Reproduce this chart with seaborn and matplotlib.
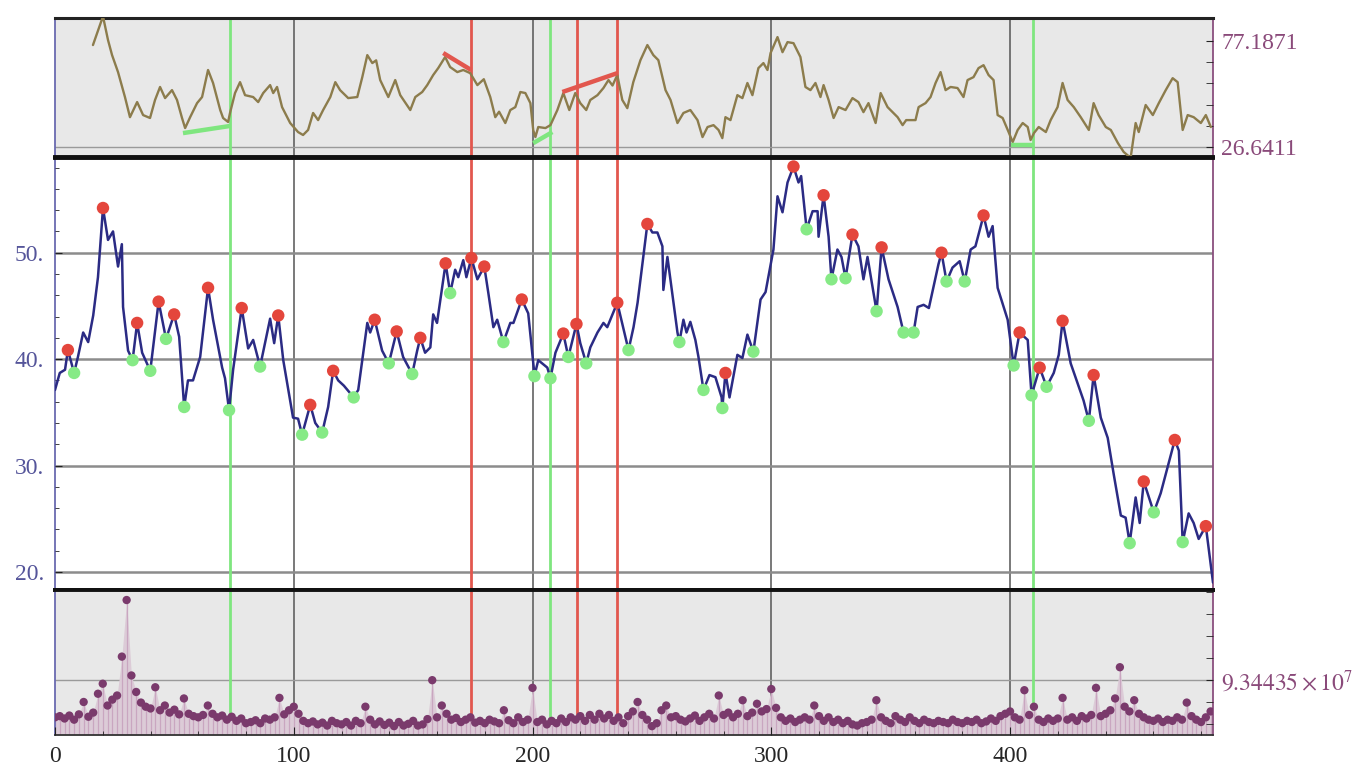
import numpy as np
import pandas as pd
import matplotlib
matplotlib.use("Agg")
import matplotlib.pyplot as plt
from matplotlib.ticker import MultipleLocator, FixedLocator
import seaborn as sns

# ---------------- data ----------------
price_x = [0, 2, 4.2, 5.4, 8, 9.6, 11.8, 13.9, 16, 18, 20.1, 22.2, 24.3, 26.4, 28, 28.5, 30.6, 32.5,
           34.4, 36.5, 39.9, 43.4, 46.5, 49.9, 52, 54.1, 55.7, 57.8, 60.8, 64.1, 66.2, 70, 71.2, 72.9,
           74.6, 78.2, 80.9, 83, 85.9, 90.1, 91.8, 93.5, 95.6, 99.7, 101.8, 103.5, 106.9, 109, 111.9,
           114.4, 116.5, 118.6, 121, 125.1, 127, 130.8, 132, 133.9, 137, 139.8, 143.1, 145.8, 149.6,
           151.7, 153, 155, 157.2, 158.4, 160, 163.6, 165.5, 167.6, 168.9, 171, 172.3, 174.4, 176.9,
           179.8, 181.5, 183.6, 185.2, 187.8, 190.7, 192, 195.5, 198.2, 200.5, 200.8, 202.4, 206.2,
           207.5, 209.6, 212.9, 215, 218.4, 220, 222.5, 224.2, 227.2, 229.7, 231.3, 235.5, 240.2,
           242.3, 244, 246.4, 248.1, 250.2, 252.3, 254.4, 254.8, 256.5, 260.7, 261.5, 263.2, 264.5,
           266.1, 268.2, 269.5, 271.6, 274.1, 276.6, 279.2, 279.5, 280.8, 282.5, 285.8, 287.9, 290,
           292.5, 295.5, 297.6, 300.9, 302.6, 304.7, 306.8, 309.3, 311.4, 312.5, 314.8, 317.3, 319.4,
           319.8, 321.9, 324, 325.2, 327.7, 329.4, 331.1, 333.2, 334, 336.5, 338.6, 340.3, 344.1,
           346.2, 349.1, 352.9, 355.4, 359.6, 361.3, 363.8, 366, 370, 371.3, 373.4, 375.9, 378.9,
           381, 383.5, 385.5, 388.9, 391, 392.7, 394.8, 399, 401.5, 404, 407.4, 409, 412.4, 415.3,
           418.3, 420.4, 422, 425.4, 430.8, 433, 435, 438, 440.9, 443.4, 446.4, 448.4, 450.1, 452.6,
           454.3, 456, 460.2, 463.1, 469, 470.7, 472.3, 474.8, 476.9, 479, 482, 485]
price_y = [37.1, 38.7, 39.0, 40.85, 38.7, 40.2, 42.5, 41.6, 44.1, 47.7, 54.2, 51.2, 52.0, 48.7, 50.8, 44.9,
           40.8, 39.9, 43.4, 40.6, 38.9, 45.4, 41.9, 44.2, 42.1, 35.5, 38.0, 38.0, 40.2, 46.7, 43.7,
           39.2, 38.2, 35.2, 39.0, 44.8, 41.0, 41.8, 39.3, 43.8, 41.5, 44.1, 39.9, 34.5, 34.4, 32.9,
           35.7, 34.0, 33.1, 35.5, 38.9, 38.0, 37.5, 36.4, 37.1, 43.4, 42.5, 43.7, 40.8, 39.6, 42.6,
           40.2, 38.6, 40.8, 42.0, 40.6, 41.1, 44.2, 43.4, 49.0, 46.2, 48.4, 47.7, 49.3, 47.7, 49.5,
           47.5, 48.7, 46.2, 43.0, 43.7, 41.6, 43.4, 43.4, 45.6, 44.3, 39.2, 38.4, 39.9, 39.2, 38.2,
           40.6, 42.4, 40.2, 43.3, 41.5, 39.6, 41.1, 42.5, 43.4, 43.0, 45.3, 40.85, 43.0, 45.3, 49.6,
           52.7, 51.9, 51.9, 50.6, 46.5, 49.6, 42.5, 41.6, 43.7, 42.5, 43.5, 41.8, 40.2, 37.1, 38.5,
           38.3, 36.4, 35.4, 38.7, 36.4, 40.4, 40.1, 42.3, 40.7, 45.6, 46.3, 50.3, 55.3, 53.8, 56.6,
           58.1, 56.6, 57.2, 52.2, 53.9, 53.9, 51.5, 55.4, 51.5, 47.5, 50.3, 49.6, 47.6, 50.6, 51.7,
           50.6, 47.5, 49.6, 44.5, 50.5, 47.5, 44.9, 42.5, 42.5, 44.9, 45.1, 44.8, 48.9, 50.0, 47.3,
           48.6, 49.2, 47.3, 50.3, 50.6, 53.5, 51.5, 52.5, 46.7, 43.7, 39.4, 42.5, 41.8, 36.6, 39.2,
           37.4, 38.7, 40.4, 43.6, 39.6, 36.1, 34.2, 38.5, 34.5, 32.6, 29.2, 25.3, 25.1, 22.7, 27.0,
           24.6, 28.5, 25.6, 27.4, 32.4, 31.4, 22.8, 25.5, 24.6, 23.1, 24.3, 19.0]

peak_x = [5.4, 20.1, 34.4, 43.4, 49.9, 64.1, 78.2, 93.5, 106.9, 116.5, 133.9, 143.1, 153, 163.6,
          174.4, 179.8, 195.5, 212.9, 218.4, 235.5, 248.1, 280.8, 309.3, 321.9, 334, 346.2, 371.3,
          388.9, 404, 412.4, 422, 435, 456, 469, 482]
peak_y = [40.85, 54.2, 43.4, 45.4, 44.2, 46.7, 44.8, 44.1, 35.7, 38.9, 43.7, 42.6, 42.0, 49.0,
          49.5, 48.7, 45.6, 42.4, 43.3, 45.3, 52.7, 38.7, 58.1, 55.4, 51.7, 50.5, 50.0, 53.5, 42.5,
          39.2, 43.6, 38.5, 28.5, 32.4, 24.3]
trough_x = [8, 32.5, 39.9, 46.5, 54.1, 72.9, 85.9, 103.5, 111.9, 125.1, 139.8, 149.6, 165.5, 187.8,
            200.8, 207.5, 215, 222.5, 240.2, 261.5, 271.6, 279.5, 292.5, 314.8, 325.2, 331.1, 344.1,
            355.4, 359.6, 373.4, 381, 401.5, 409, 415.3, 433, 450.1, 460.2, 472.3]
trough_y = [38.7, 39.9, 38.9, 41.9, 35.5, 35.2, 39.3, 32.9, 33.1, 36.4, 39.6, 38.6, 46.2, 41.6,
            38.4, 38.2, 40.2, 39.6, 40.85, 41.6, 37.1, 35.4, 40.7, 52.2, 47.5, 47.6, 44.5, 42.5,
            42.5, 47.3, 47.3, 39.4, 36.6, 37.4, 34.2, 22.7, 25.6, 22.8]

osc_x = [15.9, 20.1, 22.2, 23.9, 26.4, 29.3, 31.4, 34.4, 36.9, 39.8, 41.9, 44, 46.1, 49, 51.1, 53.2,
         54.5, 56.6, 59.5, 61.6, 64.1, 66.2, 69.2, 70.4, 72.5, 73.3, 75.4, 77.5, 79.6, 83, 85.1, 87.2,
         90.1, 91.4, 93, 95.1, 98.5, 101.8, 103.9, 106, 108.1, 110.2, 112.3, 115.3, 117.4, 119.4,
         122.8, 126.6, 128.7, 130.8, 132.9, 134.5, 136.2, 139.6, 142.5, 144.6, 148.8, 150.9, 153.8,
         155.9, 158.4, 160.5, 163.4, 165.5, 168.5, 171, 173.9, 176.9, 179.6, 182.3, 184.4, 186,
         188.6, 190.7, 192.8, 194.9, 197, 199.1, 200.3, 201.2, 202.4, 205.4, 207.5, 210.4, 212.9,
         215.4, 217.9, 220, 222.5, 224.2, 227.2, 229.7, 231.8, 233.5, 235.5, 237.6, 239.7, 242.2,
         245.2, 248.1, 250.6, 252.7, 255.7, 257.8, 260.7, 263.2, 266.1, 269.1, 271.2, 273.3, 275.8,
         277.9, 279.5, 280.8, 282.9, 285.8, 287.9, 290, 292.1, 294.6, 296.7, 298.4, 299.7, 302.6,
         304.7, 306.8, 309.3, 312.2, 314.3, 316.4, 318.5, 320.6, 321.9, 324, 326.1, 328.2, 331.1,
         334, 336.5, 338.6, 340.7, 342.8, 343.7, 345.8, 348.7, 352.9, 355, 356.5, 360.4, 361.7,
         364.6, 366.7, 368.8, 370.9, 373, 375.1, 378, 380.5, 382.2, 384.7, 386.8, 388.9, 391, 393.1,
         394.8, 396.9, 399.4, 401.1, 403.2, 405.3, 407.4, 408.6, 410, 412, 415, 417, 419.9, 422,
         424.1, 426.7, 429.6, 433, 435, 437.1, 440.1, 442.2, 445.2, 447.6, 450.5, 452.6, 453.9,
         456.8, 459.8, 462.3, 465.2, 468.1, 470.2, 472.3, 474.4, 476.9, 479.9, 482, 484.1]
osc_y = [75.3, 89.0, 77.7, 70.5, 62.4, 50.5, 40.9, 48.1, 41.9, 40.5, 49.1, 55.3, 50.0, 53.8, 49.1, 40.5,
         35.7, 40.9, 47.6, 50.5, 63.4, 57.2, 44.3, 40.5, 38.6, 42.9, 52.4, 57.6, 51.4, 50.5, 48.1,
         52.4, 56.2, 52.4, 55.3, 45.7, 38.1, 33.8, 32.4, 34.8, 42.9, 39.5, 44.3, 50.5, 57.6, 53.8,
         50.0, 50.5, 60.0, 70.5, 66.7, 68.0, 58.6, 50.5, 58.6, 51.4, 44.3, 50.5, 52.9, 56.2, 61.0,
         64.3, 69.6, 64.8, 62.4, 63.4, 61.9, 56.2, 59.0, 50.5, 40.9, 43.5, 38.1, 44.3, 45.7, 52.9,
         52.4, 47.6, 34.7, 31.4, 36.2, 35.7, 37.1, 44.3, 52.4, 44.3, 52.4, 47.6, 44.3, 49.1, 51.4,
         54.8, 58.6, 56.0, 61.0, 49.1, 45.2, 57.6, 68.1, 75.3, 70.5, 68.1, 53.8, 49.1, 38.1, 42.9,
         44.3, 39.5, 31.4, 36.2, 37.1, 34.8, 30.9, 40.9, 39.5, 51.4, 50.0, 57.2, 51.4, 64.3, 66.7,
         63.4, 71.5, 79.1, 71.9, 76.7, 76.2, 69.6, 55.3, 53.8, 57.2, 50.5, 56.2, 49.1, 40.5, 45.7,
         44.3, 50.0, 48.1, 43.3, 47.6, 40.9, 38.1, 52.4, 45.7, 40.9, 37.1, 39.5, 39.5, 45.7, 47.6,
         50.5, 57.2, 62.4, 53.8, 55.3, 54.8, 50.5, 58.6, 60.0, 64.3, 65.7, 61.0, 58.6, 41.9, 40.5,
         33.8, 29.0, 34.8, 38.1, 36.2, 30.0, 33.3, 36.2, 33.8, 39.5, 45.7, 57.2, 49.1, 45.7, 40.9,
         34.8, 47.6, 41.9, 36.2, 34.8, 28.5, 24.3, 21.5, 38.1, 33.8, 46.7, 41.9, 47.6, 53.8, 59.5,
         57.6, 34.8, 41.9, 40.9, 38.1, 41.9, 36.2]

# divergence segments on the oscillator panel
bull_seg_x = [(53.6, 73.3), (200.3, 208.3), (400.2, 409.9)]
bull_seg_y = [(33.3, 36.7), (28.5, 33.8), (27.6, 27.6)]
bear_seg_x = [(162.6, 174.3), (212.5, 235.5)]
bear_seg_y = [(71.5, 63.4), (52.9, 61.9)]

buy_signals = [73.3, 207.5, 409.5]
sell_signals = [174.4, 218.8, 235.5]

vol_x = list(range(0, 486, 2))
vol_1e7 = [3.0, 3.2, 2.8, 3.3, 2.6, 3.5, 5.6, 3.1, 3.8, 7.0,
           8.7, 5.0, 6.0, 6.7, 13.3, 22.9, 10.1, 7.3, 5.5, 4.8,
           4.5, 8.1, 4.2, 5.0, 3.8, 4.3, 3.5, 6.2, 3.6, 3.2,
           3.0, 3.4, 5.0, 3.6, 3.0, 3.3, 2.6, 3.1, 2.4, 2.8,
           2.0, 2.2, 2.5, 2.0, 2.8, 2.6, 3.0, 6.3, 3.5, 4.2,
           4.8, 3.6, 2.4, 2.0, 2.3, 1.8, 2.1, 1.6, 2.4, 2.0,
           1.8, 2.2, 1.6, 2.4, 2.0, 4.8, 2.6, 1.8, 2.3, 1.7,
           2.1, 1.5, 2.2, 1.6, 1.9, 2.4, 1.6, 1.8, 2.7, 9.3,
           3.0, 5.0, 3.6, 2.6, 2.9, 2.2, 2.6, 3.0, 2.1, 2.4,
           2.0, 2.6, 2.3, 2.0, 4.2, 2.5, 2.0, 3.0, 2.2, 2.6,
           8.0, 2.2, 2.6, 1.8, 2.4, 2.0, 2.8, 2.2, 3.0, 2.6,
           3.2, 2.4, 3.4, 2.6, 3.6, 2.8, 3.4, 2.4, 3.0, 2.0,
           3.2, 4.0, 5.6, 3.4, 2.6, 1.5, 2.0, 4.2, 5.0, 3.0,
           3.2, 2.6, 2.3, 2.8, 3.3, 2.4, 3.0, 3.6, 2.8, 6.7,
           3.4, 3.8, 3.0, 3.6, 5.9, 3.2, 3.8, 5.3, 4.0, 4.4,
           7.8, 4.6, 3.0, 2.4, 2.8, 2.2, 2.6, 3.0, 2.6, 5.0,
           3.2, 2.4, 3.0, 2.2, 2.6, 2.0, 2.4, 1.8, 1.6, 2.0,
           2.2, 2.6, 5.9, 3.0, 2.4, 2.0, 3.2, 2.6, 2.2, 3.0,
           2.4, 2.0, 2.6, 2.2, 2.0, 2.4, 2.2, 2.0, 2.6, 2.2,
           2.0, 2.4, 2.2, 2.6, 2.0, 2.3, 2.8, 2.4, 3.2, 3.6,
           4.0, 3.0, 2.6, 7.6, 3.4, 4.8, 2.6, 2.2, 2.8, 2.4,
           2.8, 6.3, 2.6, 3.0, 2.4, 3.2, 2.8, 3.4, 8.0, 3.2,
           3.6, 4.2, 6.2, 11.5, 4.8, 4.0, 5.9, 3.6, 3.0, 2.6,
           2.4, 2.8, 2.2, 2.6, 2.4, 3.0, 2.6, 5.5, 3.2, 2.6,
           2.2, 3.0, 4.0]
x_ticks = [0, 100, 200, 300, 400]
price_ticks = [20, 30, 40, 50]
price_tick_labels = ["20.", "30.", "40.", "50."]
osc_ticks = [26.6411, 77.1871]
osc_tick_labels = ["26.6411", "77.1871"]
vol_tick = 9.34435e7
vol_tick_label = r"$9.34435\times10^{7}$"

# ---------------- style ----------------
sns.set_style("white")
plt.rcParams["font.family"] = ["Liberation Serif", "DejaVu Serif"]
plt.rcParams["mathtext.fontset"] = "stix"

BLUE_AX = "#6a6ab0"
PURPLE_AX = "#8a4f7e"
LBL_BLUE = "#55559a"
LBL_PURPLE = "#8a4a7a"
GREEN = "#7fe67f"
RED = "#e2574e"
FS = 17

fig = plt.figure(figsize=(13.64, 7.71), dpi=100)
L, W = 55 / 1364, (1213 - 55) / 1364


def frame(top_px, bot_px):
    return [L, 1 - bot_px / 771, W, (bot_px - top_px) / 771]


ax_top = fig.add_axes(frame(18, 157))
ax_mid = fig.add_axes(frame(158, 590))
ax_bot = fig.add_axes(frame(590, 735))
axes = [ax_top, ax_mid, ax_bot]

for ax in axes:
    ax.set_xlim(0, 485)
    ax.set_axisbelow(False)
    ax.spines["left"].set_color(BLUE_AX)
    ax.spines["right"].set_color(PURPLE_AX)
    ax.spines["left"].set_linewidth(1.3)
    ax.spines["right"].set_linewidth(1.3)
    for xv in x_ticks[1:]:
        ax.axvline(xv, color="#555555", lw=1.1, zorder=1)
    ax.xaxis.set_major_locator(FixedLocator(x_ticks))
    ax.xaxis.set_minor_locator(MultipleLocator(20))
    ax.tick_params(axis="x", which="both", direction="in", labelbottom=False,
                   bottom=(ax is ax_bot), top=False)

ax_top.set_facecolor("#e8e8e8")
ax_bot.set_facecolor("#e8e8e8")
ax_mid.set_facecolor("white")

# thick separators
ax_top.spines["top"].set_linewidth(2.2)
ax_top.spines["top"].set_color("#222222")
ax_top.spines["bottom"].set_linewidth(2.8)
ax_top.spines["bottom"].set_color("#111111")
ax_mid.spines["top"].set_linewidth(2.8)
ax_mid.spines["top"].set_color("#111111")
ax_mid.spines["bottom"].set_linewidth(2.8)
ax_mid.spines["bottom"].set_color("#111111")
ax_bot.spines["top"].set_linewidth(2.8)
ax_bot.spines["top"].set_color("#111111")
ax_bot.spines["bottom"].set_linewidth(1.3)
ax_bot.spines["bottom"].set_color("#333333")

# signal lines across all panels
for ax in axes:
    for xv in buy_signals:
        ax.axvline(xv, color=GREEN, lw=2.0, zorder=2)
    for xv in sell_signals:
        ax.axvline(xv, color=RED, lw=2.0, zorder=2)

# ---------------- top: oscillator ----------------
ax_top.set_ylim(21.9, 88.2)
ax_top.axhline(osc_ticks[0], color="#9a9a9a", lw=1.0, zorder=1)
sns.lineplot(x=osc_x, y=osc_y, ax=ax_top, color="#8c7c4c", lw=1.7, sort=False,
             estimator=None, zorder=3)
for (x0, x1), (y0, y1) in zip(bull_seg_x, bull_seg_y):
    ax_top.plot([x0, x1], [y0, y1], color=GREEN, lw=3.2, solid_capstyle="butt", zorder=4)
for (x0, x1), (y0, y1) in zip(bear_seg_x, bear_seg_y):
    ax_top.plot([x0, x1], [y0, y1], color=RED, lw=3.2, solid_capstyle="butt", zorder=4)
ax_top.yaxis.set_ticks_position("right")
ax_top.set_yticks(osc_ticks)
ax_top.set_yticklabels(osc_tick_labels)
ax_top.yaxis.set_minor_locator(FixedLocator(list(np.linspace(osc_ticks[0], osc_ticks[1], 6))))
ax_top.tick_params(axis="y", which="both", direction="in", right=True, left=False,
                   labelright=True, labelleft=False, labelsize=FS, labelcolor=LBL_PURPLE,
                   color="#222222", length=5, pad=6)

# ---------------- middle: price ----------------
ax_mid.set_ylim(18.3, 58.9)
for yv in price_ticks:
    ax_mid.axhline(yv, color="#8c8c8c", lw=1.8, zorder=1)
sns.lineplot(x=price_x, y=price_y, ax=ax_mid, color="#2b2b84", lw=1.8, sort=False,
             estimator=None, zorder=3)
sns.scatterplot(x=trough_x, y=trough_y, ax=ax_mid, color="#86ea86", s=80,
                edgecolor="none", zorder=5)
sns.scatterplot(x=peak_x, y=peak_y, ax=ax_mid, color="#e4463c", s=80,
                edgecolor="none", zorder=6)
ax_mid.yaxis.set_ticks_position("left")
ax_mid.set_yticks(price_ticks)
ax_mid.set_yticklabels(price_tick_labels)
ax_mid.yaxis.set_minor_locator(MultipleLocator(2))
ax_mid.tick_params(axis="y", which="both", direction="in", left=True, right=False,
                   labelleft=True, labelsize=FS, labelcolor=LBL_BLUE, color="#222222",
                   length=5, pad=8)
ax_mid.tick_params(axis="y", which="minor", length=3)

# ---------------- bottom: volume ----------------
vol = np.array(vol_1e7) * 1e7
ax_bot.set_ylim(0, 2.46e8)
ax_bot.axhline(vol_tick, color="#9a9a9a", lw=1.0, zorder=1)
ax_bot.fill_between(vol_x, 0, vol, color="#dccbd7", lw=0, zorder=2)
ax_bot.vlines(vol_x, 0, vol, color="#c9a6c0", lw=0.9, zorder=2)
sns.scatterplot(x=vol_x, y=vol, ax=ax_bot, color="#7a3a6c", s=36, edgecolor="none", zorder=4)
ax_bot.yaxis.set_ticks_position("right")
ax_bot.set_yticks([vol_tick])
ax_bot.set_yticklabels([vol_tick_label])
ax_bot.yaxis.set_minor_locator(FixedLocator([vol_tick + k * 3.74e7 for k in range(-2, 5)]))
ax_bot.tick_params(axis="y", which="both", direction="in", right=True, left=False,
                   labelright=True, labelleft=False, labelsize=FS, labelcolor=LBL_PURPLE,
                   color="#222222", length=5, pad=6)
ax_bot.tick_params(axis="x", which="both", labelbottom=True, labelsize=FS, color="#222222",
                   direction="in", length=6, pad=8)
ax_bot.tick_params(axis="x", which="minor", length=3)
ax_bot.set_xticklabels([str(v) for v in x_ticks])

for ax in axes:
    ax.set_xlabel("")
    ax.set_ylabel("")
    ax.grid(False)

fig.savefig("out.png", dpi=100)
